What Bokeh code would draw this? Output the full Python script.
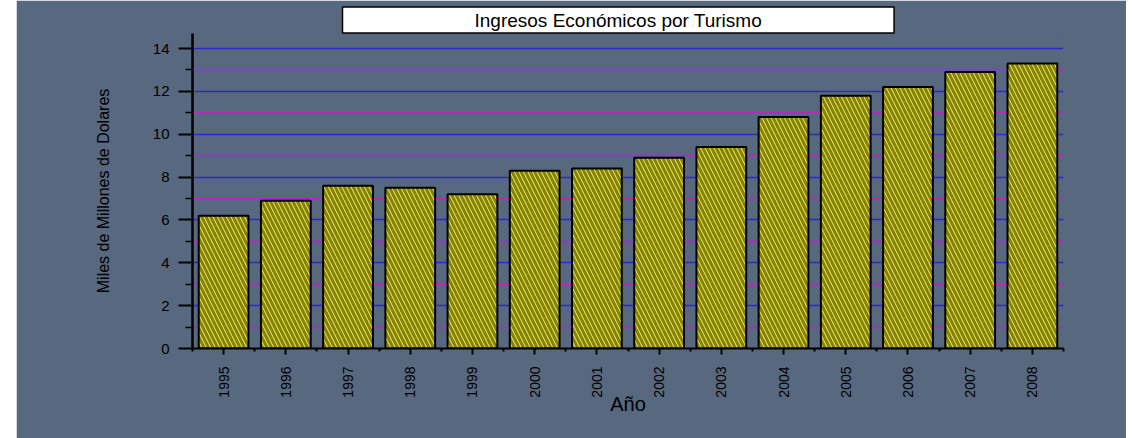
import math
from bokeh.plotting import figure
from bokeh.models import Range1d, FixedTicker, Title, Spacer
from bokeh.layouts import row
from bokeh.embed import file_html
from bokeh.resources import INLINE

# ---- data ----
years = [1995, 1996, 1997, 1998, 1999, 2000, 2001, 2002, 2003, 2004, 2005, 2006, 2007, 2008]
ingresos = [6.2, 6.9, 7.6, 7.5, 7.2, 8.3, 8.4, 8.9, 9.4, 10.8, 11.8, 12.2, 12.9, 13.3]
y_major_ticks = [0, 2, 4, 6, 8, 10, 12, 14]
y_minor_ticks = [1, 3, 5, 7, 9, 11, 13]
x_minor_ticks = [y - 0.5 for y in years] + [years[-1] + 0.5]
title_text = "Ingresos Económicos por Turismo"
x_label = "Año"
y_label = "Miles de Millones de Dolares"

BG = "#57687f"
NARROW = "'Liberation Sans Narrow', 'Arial Narrow', 'Liberation Sans', sans-serif"

p = figure(width=1110, height=438, output_backend="svg", toolbar_location=None,
           x_range=Range1d(years[0] - 0.5, years[-1] + 0.5),
           y_range=Range1d(0, 14.7),
           min_border_left=176, min_border_right=63, min_border_top=33, min_border_bottom=90)
p.background_fill_color = BG
p.border_fill_color = BG
p.outline_line_color = BG
p.outline_line_width = 2

# grid
p.xgrid.visible = False
p.ygrid.grid_line_color = "#2a2ad0"
p.ygrid.grid_line_width = 1.3
p.ygrid.minor_grid_line_color = "#c020c8"
p.ygrid.minor_grid_line_width = 1.3

# bars
p.vbar(x=years, top=ingresos, width=0.8, bottom=0,
       fill_color="#878300", line_color="black", line_width=2,
       hatch_pattern="\\", hatch_color="#ecec78", hatch_scale=9, hatch_weight=1)

# y axis
ya = p.yaxis[0]
ya.ticker = FixedTicker(ticks=y_major_ticks, minor_ticks=y_minor_ticks)
ya.axis_line_color = "black"
ya.axis_line_width = 2.5
ya.major_tick_line_color = "black"
ya.major_tick_line_width = 2
ya.major_tick_out = 14
ya.major_tick_in = 0
ya.minor_tick_line_color = "black"
ya.minor_tick_line_width = 1.5
ya.minor_tick_out = 7
ya.minor_tick_in = 0
ya.major_label_standoff = 9
ya.major_label_text_font = "Liberation Sans"
ya.major_label_text_font_size = "15px"
ya.major_label_text_color = "black"
ya.axis_label = y_label
ya.axis_label_text_font = NARROW
ya.axis_label_text_font_style = "normal"
ya.axis_label_text_font_size = "16px"
ya.axis_label_text_color = "black"
ya.axis_label_standoff = 38

# x axis
xa = p.xaxis[0]
xa.ticker = FixedTicker(ticks=years, minor_ticks=x_minor_ticks)
xa.axis_line_color = "black"
xa.axis_line_width = 2
xa.major_tick_line_color = "black"
xa.major_tick_line_width = 2
xa.major_tick_out = 6
xa.major_tick_in = 0
xa.minor_tick_line_color = "black"
xa.minor_tick_line_width = 2
xa.minor_tick_out = 3
xa.minor_tick_in = 0
xa.major_label_orientation = math.pi / 2
xa.major_label_standoff = 12
xa.major_label_text_font = NARROW
xa.major_label_text_font_size = "14px"
xa.major_label_text_color = "black"
xa.axis_label = x_label
xa.axis_label_text_font = "Liberation Sans"
xa.axis_label_text_font_style = "normal"
xa.axis_label_text_font_size = "20px"
xa.axis_label_text_color = "black"
xa.axis_label_standoff = -8

# title box
title = Title(text=title_text, align="left", offset=150, standoff=1,
              text_font="Liberation Sans", text_font_size="19px", text_font_style="normal",
              text_color="black",
              background_fill_color="white", border_line_color="black", border_line_width=1.5,
              padding=dict(left=132, right=132, top=3, bottom=2))
p.add_layout(title, "above")

layout = row(Spacer(width=16, height=438), p)
open("out.html", "w").write(file_html(layout, INLINE))
